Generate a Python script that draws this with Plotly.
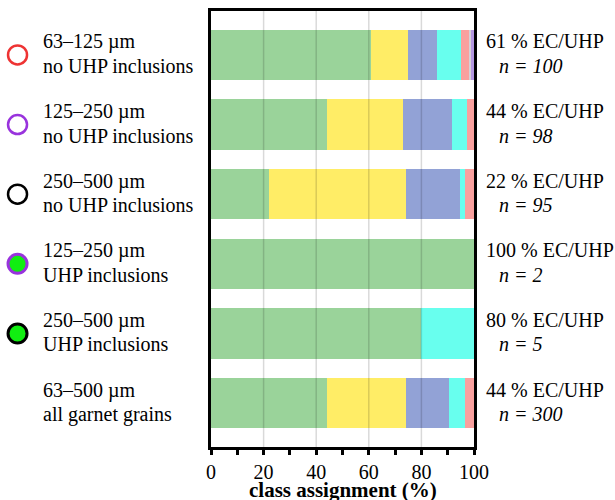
import plotly.graph_objects as go

# Grain-size groups (two-line row labels)
size_ranges = ["63–125 µm", "125–250 µm", "250–500 µm", "125–250 µm", "250–500 µm", "63–500 µm"]
inclusion_notes = ["no UHP inclusions", "no UHP inclusions", "no UHP inclusions",
                   "UHP inclusions", "UHP inclusions", "all garnet grains"]
n_grains = [100, 98, 95, 2, 5, 300]

# Class assignment shares (%) per group, stacked left to right
ec_uhp = [61, 44, 22, 100, 80, 44]
class_2 = [14, 28.9, 52.3, 0, 0, 30]
class_3 = [11, 18.6, 20.2, 0, 0, 16.5]
class_4 = [9, 6.0, 2.1, 0, 20, 6]
class_5 = [3, 2.5, 3.4, 0, 0, 3.5]
class_6 = [1, 0, 0, 0, 0, 0]
class_7 = [1, 0, 0, 0, 0, 0]

series = [
    ("EC/UHP", ec_uhp, "#9ad39a"),
    ("class 2", class_2, "#ffed66"),
    ("class 3", class_3, "#92a2d6"),
    ("class 4", class_4, "#68ffee"),
    ("class 5", class_5, "#f9a09e"),
    ("class 6", class_6, "#d6d0d6"),
    ("class 7", class_7, "#b497e0"),
]

# Group symbols: (line colour, fill colour); None = no symbol
symbols = [("#ee3333", None), ("#9933dd", None), ("#000000", None),
           ("#9933dd", "#11ee11"), ("#000000", "#11ee11"), None]

cats = list(range(len(size_ranges)))
FONT = "Liberation Serif"

fig = go.Figure()
for name, vals, col in series:
    fig.add_trace(go.Bar(
        y=cats, x=vals, name=name, orientation="h",
        marker=dict(color=col, line=dict(width=0)),
        width=0.72, showlegend=False,
    ))

annotations = []
shapes = []
for i in cats:
    # left labels
    annotations.append(dict(x=-0.6475, y=i, yshift=13, xref="paper", yref="y",
                            text=size_ranges[i], showarrow=False, xanchor="left",
                            yanchor="middle", font=dict(family=FONT, size=20, color="black")))
    annotations.append(dict(x=-0.6475, y=i, yshift=-11, xref="paper", yref="y",
                            text=inclusion_notes[i], showarrow=False, xanchor="left",
                            yanchor="middle", font=dict(family=FONT, size=20, color="black")))
    # right labels
    annotations.append(dict(x=1.037, y=i, yshift=13.5, xref="paper", yref="y",
                            text=f"{round(ec_uhp[i])} % EC/UHP", showarrow=False,
                            xanchor="left", yanchor="middle",
                            font=dict(family=FONT, size=20, color="black")))
    annotations.append(dict(x=1.088, y=i, yshift=-11, xref="paper", yref="y",
                            text=f"<i>n = {n_grains[i]}</i>", showarrow=False,
                            xanchor="left", yanchor="middle",
                            font=dict(family=FONT, size=20, color="black")))
    sym = symbols[i]
    if sym is not None:
        line_col, fill_col = sym
        shapes.append(dict(type="circle", xref="paper", yref="y",
                           xsizemode="pixel", ysizemode="pixel",
                           xanchor=-0.7356, yanchor=i,
                           x0=-9.5, x1=9.5, y0=-9.5, y1=9.5,
                           line=dict(color=line_col, width=2.5 if fill_col is None else 3),
                           fillcolor=fill_col if fill_col else "rgba(0,0,0,0)",
                           layer="above"))

# x-axis title placed below the tick labels
annotations.append(dict(x=0.5, y=0, xref="paper", yref="paper", yshift=-43,
                        text="<b>class assignment (%)</b>", showarrow=False,
                        xanchor="center", yanchor="middle",
                        font=dict(family=FONT, size=21, color="black")))

# vertical grid lines drawn over the bars
for gx in [20, 40, 60, 80]:
    shapes.append(dict(type="line", xref="x", yref="paper", x0=gx, x1=gx, y0=0, y1=1,
                       line=dict(color="rgba(0,0,0,0.15)", width=1.5), layer="above"))

fig.update_layout(
    barmode="stack",
    width=615, height=500,
    margin=dict(l=211, r=141, t=11, b=53, autoexpand=False),
    plot_bgcolor="white", paper_bgcolor="white",
    bargap=0,
    annotations=annotations,
    shapes=shapes,
    xaxis=dict(
        range=[0, 100], tickvals=[0, 20, 40, 60, 80, 100],
        automargin=False,
        ticks="outside", ticklen=5, tickwidth=2.5, tickcolor="black",
        minor=dict(tickvals=[10, 30, 50, 70, 90], ticks="outside", ticklen=5,
                   tickwidth=2.5, tickcolor="black", showgrid=False),
        showgrid=False, zeroline=False,
        showline=True, linecolor="black", linewidth=3, mirror=True,
        tickfont=dict(family=FONT, size=20, color="black"),
    ),
    yaxis=dict(
        range=[5.63, -0.63], showticklabels=False, ticks="",
        automargin=False,
        showgrid=False, zeroline=False,
        showline=True, linecolor="black", linewidth=3, mirror=True,
    ),
)

fig.write_html("out.html")
